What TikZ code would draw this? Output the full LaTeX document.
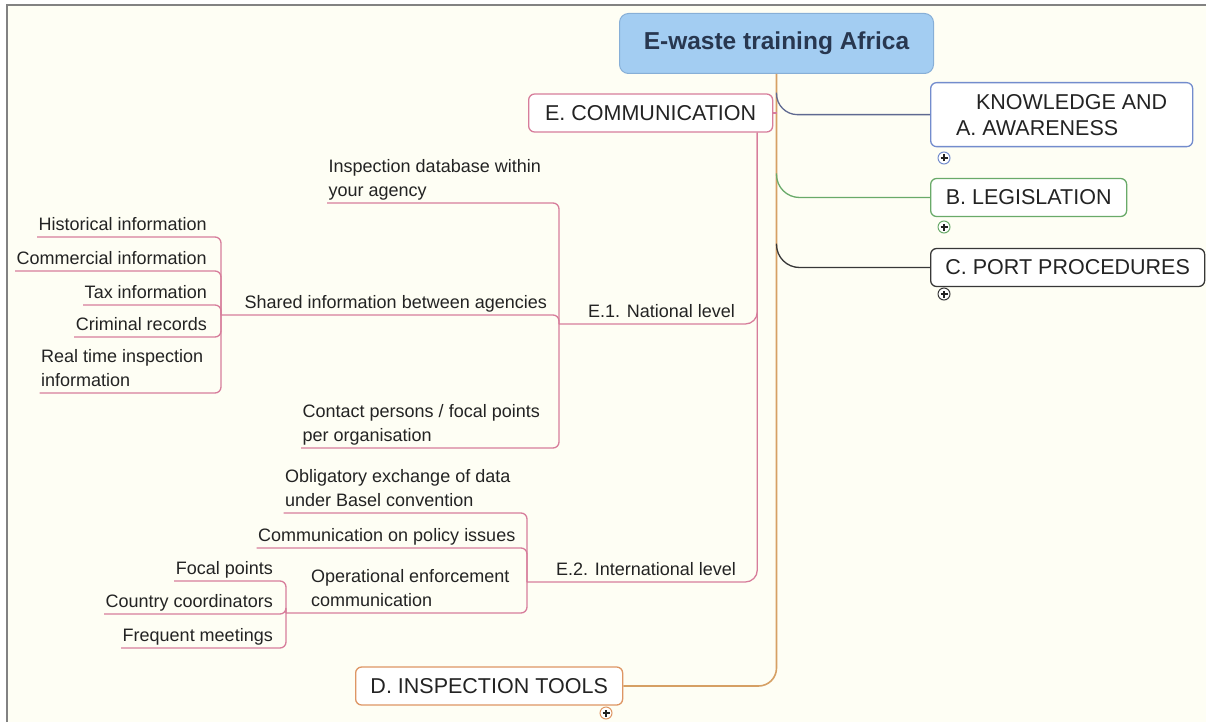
\documentclass[tikz,border=0pt]{standalone}
\usepackage{fontspec}
\setmainfont{Liberation Sans}
\usetikzlibrary{calc}
\definecolor{bgc}{RGB}{254,254,244}
\definecolor{framec}{RGB}{130,130,130}
\definecolor{txt}{RGB}{35,35,35}
\definecolor{rootf}{RGB}{163,205,242}
\definecolor{rootb}{RGB}{135,175,215}
\definecolor{roott}{RGB}{40,55,80}
\definecolor{pinkc}{RGB}{215,125,155}
\definecolor{trunkc}{RGB}{214,160,100}
\definecolor{blueb}{RGB}{115,140,205}
\definecolor{bluel}{RGB}{95,105,145}
\definecolor{greenb}{RGB}{105,170,105}
\definecolor{darkb}{RGB}{55,55,55}
\definecolor{orangeb}{RGB}{222,150,100}
\tikzset{
  tp/.style={font=\fontsize{18}{24}\selectfont, text=txt, inner xsep=1.5pt, inner ysep=2pt, text depth=4pt, align=left},
  mb/.style={draw, fill=white, rounded corners=6pt, line width=1.3pt, font=\fontsize{21.5}{26}\selectfont, text=txt, minimum height=38pt, inner xsep=0pt, anchor=west},
  pk/.style={draw=pinkc, line width=1.3pt, rounded corners=6pt},
  plusc/.style={circle, draw, line width=1pt, minimum size=12pt, inner sep=0pt, fill=white,
    path picture={\draw[line width=1.1pt, txt] ([xshift=-3.5pt]path picture bounding box.center) -- ([xshift=3.5pt]path picture bounding box.center) ([yshift=-3.5pt]path picture bounding box.center) -- ([yshift=3.5pt]path picture bounding box.center);}},
}
\begin{document}
\begin{tikzpicture}[x=1pt,y=-1pt]
\useasboundingbox (0,0) rectangle (1206,722);
\fill[white] (0,0) rectangle (1206,722);
\fill[bgc] (7,5) rectangle (1206,722);
\draw[framec, line width=1.5pt] (7,722) -- (7,5) -- (1206,5);

% main boxes
\node[draw=rootb, fill=rootf, rounded corners=9pt, line width=1pt, minimum width=314pt, minimum height=60pt, anchor=north west, font=\fontsize{24.5}{28}\selectfont\bfseries, text=roott] (root) at (619,13) {E-waste training Africa};
\node[mb, draw=blueb, minimum width=262pt, minimum height=64pt, anchor=north west, align=left] (A) at (930,82) {\hspace*{20pt}KNOWLEDGE AND\\A. AWARENESS};
\node[mb, draw=greenb, minimum width=196pt] (B) at (930,197.5) {B. LEGISLATION};
\node[mb, draw=darkb, minimum width=274pt] (C) at (930,267.5) {C. PORT PROCEDURES};
\node[mb, draw=pinkc, minimum width=244pt] (E) at (528,113) {E. COMMUNICATION};
\node[mb, draw=orangeb, minimum width=267pt] (D) at (355,686) {D. INSPECTION TOOLS};

\node[plusc, draw=blueb] (pA) at (944,158) {};
\node[plusc, draw=greenb] (pB) at (944,227) {};
\node[plusc, draw=darkb] (pC) at (944,294) {};
\node[plusc, draw=orangeb] (pD) at (606,713) {};

% trunk and main connectors
\draw[trunkc, line width=1.6pt, rounded corners=18pt] (root.south) -- (root.south |- D.east) -- (D.east);
\draw[bluel, line width=1.3pt, rounded corners=21pt] ($(root.south |- A.west)+(0,-22)$) -- (root.south |- A.west) -- (A.west);
\draw[greenb, line width=1.3pt, rounded corners=23pt] ($(root.south |- B.west)+(0,-24)$) -- (root.south |- B.west) -- (B.west);
\draw[darkb, line width=1.3pt, rounded corners=23pt] ($(root.south |- C.west)+(0,-24)$) -- (root.south |- C.west) -- (C.west);
\draw[pk] (E.east) -- (E.east -| root.south);

% E subtree
\coordinate (ev) at ($(E.south east)+(-16,0)$);
\node[tp, anchor=south west] (e1) at (586.5,324) {E.1. National level};
\node[tp, anchor=south west] (e2) at (554.5,582) {E.2. International level};
\coordinate (j1) at (559,324);
\coordinate (j2) at (527,582);
\draw[pk, rounded corners=12pt] (ev) -- (ev |- e1.south) -- (j1);
\draw[pk, rounded corners=12pt] (ev) -- (ev |- e2.south) -- (j2);

% E.1 children
\node[tp, anchor=south west] (idb) at (327,203) {Inspection database within\\your agency};
\node[tp, anchor=south west] (shared) at (243,315) {Shared information between agencies};
\node[tp, anchor=south west] (contact) at (301,448) {Contact persons / focal points\\per organisation};
\coordinate (jS) at (221,315);
\draw[pk] (idb.south west) -- (idb.south west -| j1) -- (j1);
\draw[pk] (jS) -- (shared.south west) -- (shared.south west -| j1) -- (j1);
\draw[pk] (contact.south west) -- (contact.south west -| j1) -- (j1);

% shared children
\node[tp, anchor=south east] (hist) at (208.5,237) {Historical information};
\node[tp, anchor=south east] (comm) at (208.5,271) {Commercial information};
\node[tp, anchor=south east] (tax) at (208.5,305) {Tax information};
\node[tp, anchor=south east] (crim) at (208.5,337) {Criminal records};
\node[tp, anchor=south west] (real) at (39.5,393) {Real time inspection\\information};
\draw[pk] (hist.south west) -- (hist.south west -| jS) -- (jS);
\draw[pk] (comm.south west) -- (comm.south west -| jS) -- (jS);
\draw[pk] (tax.south west) -- (tax.south west -| jS) -- (jS);
\draw[pk] (crim.south west) -- (crim.south west -| jS) -- (jS);
\draw[pk] (real.south west) -- (real.south west -| jS) -- (jS);

% E.2 children
\node[tp, anchor=south west] (obl) at (283.5,513) {Obligatory exchange of data\\under Basel convention};
\node[tp, anchor=south west] (pol) at (256.5,548) {Communication on policy issues};
\node[tp, anchor=south west] (ope) at (309.5,613) {Operational enforcement\\communication};
\coordinate (jO) at (286,613);
\draw[pk] (obl.south west) -- (obl.south west -| j2) -- (j2);
\draw[pk] (pol.south west) -- (pol.south west -| j2) -- (j2);
\draw[pk] (jO) -- (ope.south west) -- (ope.south west -| j2) -- (j2);

% operational children
\node[tp, anchor=south east] (foc) at (274.5,581) {Focal points};
\node[tp, anchor=south east] (cty) at (274.5,614) {Country coordinators};
\node[tp, anchor=south east] (freq) at (274.5,648) {Frequent meetings};
\draw[pk] (foc.south west) -- (foc.south west -| jO) -- (jO);
\draw[pk] (cty.south west) -- (cty.south west -| jO) -- (jO);
\draw[pk] (freq.south west) -- (freq.south west -| jO) -- (jO);
\end{tikzpicture}
\end{document}
